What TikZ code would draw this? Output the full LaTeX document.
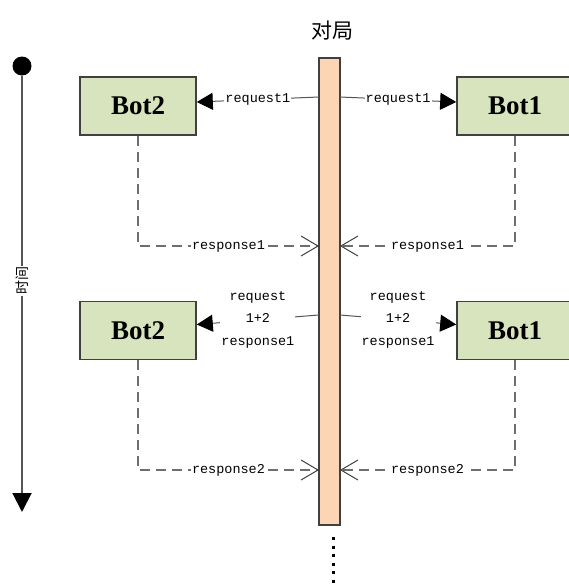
\documentclass[tikz,border=0pt]{standalone}
\usepackage{fontspec}
\setmainfont{Liberation Serif}
\newfontfamily\monof{Liberation Mono}
\newfontfamily\cjk{Noto Sans CJK SC}
\usetikzlibrary{arrows.meta}
\definecolor{boxfill}{HTML}{D7E4BD}
\definecolor{barfill}{HTML}{FCD5B5}
\definecolor{edge}{HTML}{404040}
\definecolor{linec}{HTML}{555555}
\definecolor{dashc}{HTML}{6E6E6E}
\tikzset{
  botbox/.style={draw=edge, line width=1.6pt, fill=boxfill, minimum width=116pt, minimum height=58pt, inner sep=0pt, font=\bfseries\fontsize{27}{29}\selectfont},
  barbox/.style={draw=edge, line width=1.4pt, fill=barfill, minimum width=21pt, minimum height=467pt, inner sep=0pt},
  reqline/.style={draw=linec, line width=1pt, -{Triangle[length=16pt,width=17pt,fill=black,color=black]}},
  respline/.style={draw=dashc, line width=1.3pt, dash pattern=on 10pt off 6pt, -{Straight Barb[length=17pt,width=20pt,line width=1pt,color=edge]}},
  lbl/.style={fill=white, inner sep=1pt, font=\monof\fontsize{13.5}{14}\selectfont, text=black},
  mlbl/.style={fill=white, inner sep=1pt, font=\monof\fontsize{13.5}{22.5}\selectfont, align=center, text=black},
}
\begin{document}
\begin{tikzpicture}[x=1pt,y=-1pt]
\useasboundingbox (0,0) rectangle (569,584);
% title
\node[font=\cjk\fontsize{21}{23}\selectfont] (title) at (332,31) {对局};
% central bar
\node[barbox] (bar) at (329.5,291.5) {};
% bots
\node[botbox] (b2a) at (138,106) {Bot2};
\node[botbox] (b1a) at (515,106) {Bot1};
\node[botbox] (b2b) at (138,330.5) {Bot2};
\node[botbox] (b1b) at (515,330.5) {Bot1};
% time axis
\node[circle, fill=black, minimum size=19pt, inner sep=0pt] (tstart) at (22,66) {};
\coordinate (tend) at (22,512);
\draw[draw=linec, line width=2pt, -{Triangle[length=19pt,width=19pt,fill=black,color=black]}] (tstart) -- (tend)
  node[pos=0.47, fill=white, inner sep=1pt, rotate=90, font=\cjk\fontsize{14}{15}\selectfont] (tlabel) {时间};
% request1
\coordinate (r1l) at (319,97);
\coordinate (r1r) at (340,97);
\draw[reqline] (r1l) -- node[lbl, pos=0.5] (lr1) {request1} ([yshift=4pt]b2a.east);
\draw[reqline] (r1r) -- node[lbl, pos=0.5] (rr1) {request1} ([yshift=4pt]b1a.west);
% response1
\coordinate (s1l) at (319,246);
\coordinate (s1r) at (340,246);
\draw[respline] (b2a.south) |- node[lbl, pos=0.75] (ls1) {response1} (s1l);
\draw[respline] (b1a.south) |- node[lbl, pos=0.75] (rs1) {response1} (s1r);
% request 1+2
\coordinate (r2l) at (319,315);
\coordinate (r2r) at (340,315);
\draw[reqline] (r2l) -- node[mlbl, pos=0.5] (lr2) {request\\1+2\\response1} ([yshift=6pt]b2b.east);
\draw[reqline] (r2r) -- node[mlbl, pos=0.5] (rr2) {request\\1+2\\response1} ([yshift=6pt]b1b.west);
% response2
\coordinate (s2l) at (319,470);
\coordinate (s2r) at (340,470);
\draw[respline] (b2b.south) |- node[lbl, pos=0.75] (ls2) {response2} (s2l);
\draw[respline] (b1b.south) |- node[lbl, pos=0.75] (rs2) {response2} (s2r);
% continuation dots
\coordinate (dtop) at (333,537);
\coordinate (dbot) at (333,586);
\draw[line width=3pt, dash pattern=on 3pt off 5.5pt] (dtop) -- (dbot);
\end{tikzpicture}
\end{document}
